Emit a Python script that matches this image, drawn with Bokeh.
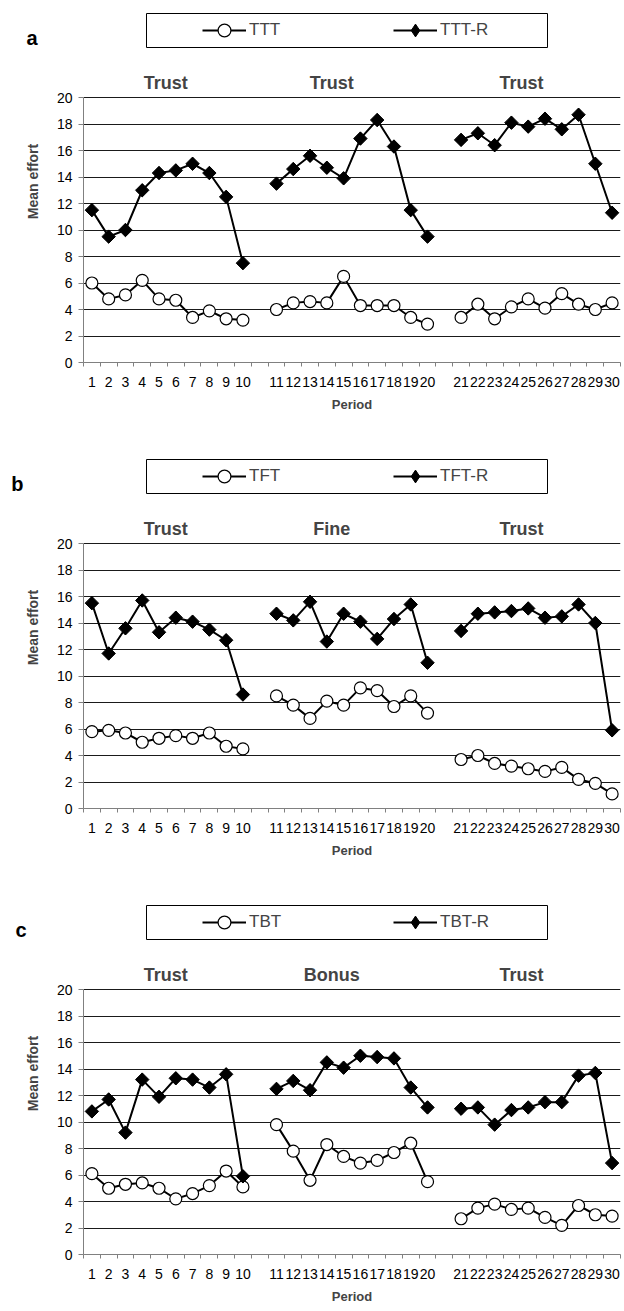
from math import pi
from bokeh.plotting import figure
from bokeh.layouts import column
from bokeh.models import (Range1d, FixedTicker, Label, Legend, LegendItem, BoxAnnotation,
                          LinearAxis)
from bokeh.embed import file_html
from bokeh.resources import INLINE

periods = list(range(1, 31))
y_ticks = list(range(0, 21, 2))

a_titles = ["Trust", "Trust", "Trust"]
b_titles = ["Trust", "Fine", "Trust"]
c_titles = ["Trust", "Bonus", "Trust"]

ttt = [6.0, 4.8, 5.1, 6.2, 4.8, 4.7, 3.4, 3.9, 3.3, 3.2,
       4.0, 4.5, 4.6, 4.5, 6.5, 4.3, 4.3, 4.3, 3.4, 2.9,
       3.4, 4.4, 3.3, 4.2, 4.8, 4.1, 5.2, 4.4, 4.0, 4.5]
ttt_r = [11.5, 9.5, 10.0, 13.0, 14.3, 14.5, 15.0, 14.3, 12.5, 7.5,
         13.5, 14.6, 15.6, 14.7, 13.9, 16.9, 18.3, 16.3, 11.5, 9.5,
         16.8, 17.3, 16.4, 18.1, 17.8, 18.4, 17.6, 18.7, 15.0, 11.3]
tft = [5.8, 5.9, 5.7, 5.0, 5.3, 5.5, 5.3, 5.7, 4.7, 4.5,
       8.5, 7.8, 6.8, 8.1, 7.8, 9.1, 8.9, 7.7, 8.5, 7.2,
       3.7, 4.0, 3.4, 3.2, 3.0, 2.8, 3.1, 2.2, 1.9, 1.1]
tft_r = [15.5, 11.7, 13.6, 15.7, 13.3, 14.4, 14.1, 13.5, 12.7, 8.6,
         14.7, 14.2, 15.6, 12.6, 14.7, 14.1, 12.8, 14.3, 15.4, 11.0,
         13.4, 14.7, 14.8, 14.9, 15.1, 14.4, 14.5, 15.4, 14.0, 5.9]
tbt = [6.1, 5.0, 5.3, 5.4, 5.0, 4.2, 4.6, 5.2, 6.3, 5.1,
       9.8, 7.8, 5.6, 8.3, 7.4, 6.9, 7.1, 7.7, 8.4, 5.5,
       2.7, 3.5, 3.8, 3.4, 3.5, 2.8, 2.2, 3.7, 3.0, 2.9]
tbt_r = [10.8, 11.7, 9.2, 13.2, 11.9, 13.3, 13.2, 12.6, 13.6, 5.9,
         12.5, 13.1, 12.4, 14.5, 14.1, 15.0, 14.9, 14.8, 12.6, 11.1,
         11.0, 11.1, 9.8, 10.9, 11.1, 11.5, 11.5, 13.5, 13.7, 6.9]

FONT = "Liberation Sans"
FRAME_H = 362                  # frame runs from the top of each panel down to the x axis
PX_PER_UNIT = 265 / 20.0
Y_TOP = FRAME_H / PX_PER_UNIT  # value 20 sits 97 px below the panel top
LETTER_Y = 24.5
TITLE_SLOTS = [5.4, 15.3, 26.6]


def slot(p):
    # one empty category between consecutive blocks of ten periods
    return p + (p - 1) // 10


def make_panel(letter, names, low, high, titles, height, bottom, letter_standoff):
    p = figure(width=624, height=height, x_range=Range1d(0.5, 32.5), y_range=Range1d(0, Y_TOP),
               output_backend="svg", toolbar_location=None, title=None,
               min_border_left=83, min_border_right=4,
               min_border_top=0, min_border_bottom=bottom)
    p.outline_line_color = None
    p.background_fill_color = "white"
    p.border_fill_color = "white"
    p.xgrid.visible = False
    p.ygrid.ticker = FixedTicker(ticks=y_ticks[1:])
    p.ygrid.grid_line_color = "#1a1a1a"
    p.ygrid.grid_line_width = 1

    xa = p.xaxis[0]
    xa.ticker = FixedTicker(ticks=[slot(q) for q in periods],
                            minor_ticks=[i + 0.5 for i in range(0, 33)])
    xa.major_label_overrides = {slot(q): str(q) for q in periods}
    xa.major_tick_line_color = None
    xa.major_tick_in = 0
    xa.major_tick_out = 0
    xa.minor_tick_in = 0
    xa.minor_tick_out = 4
    xa.minor_tick_line_color = "#808080"
    xa.axis_line_color = "#808080"
    xa.major_label_standoff = 10
    xa.major_label_text_font = FONT
    xa.major_label_text_font_size = "14px"
    xa.major_label_text_color = "black"
    xa.axis_label = "Period"
    xa.axis_label_text_font = FONT
    xa.axis_label_text_font_style = "bold"
    xa.axis_label_text_font_size = "13px"
    xa.axis_label_standoff = 7

    ya = p.yaxis[0]
    ya.ticker = FixedTicker(ticks=y_ticks, minor_ticks=[])
    ya.bounds = (0, 20)
    ya.major_tick_in = 0
    ya.major_tick_out = 5
    ya.major_tick_line_color = "#808080"
    ya.axis_line_color = "#808080"
    ya.major_label_standoff = 6
    ya.major_label_text_font = FONT
    ya.major_label_text_font_size = "14px"
    ya.major_label_text_color = "black"
    ya.axis_label = "Mean effort"
    ya.axis_label_text_font = FONT
    ya.axis_label_text_font_style = "bold"
    ya.axis_label_text_font_size = "14px"
    ya.axis_label_standoff = 13

    # panel letter, shown as the only label of an outer, otherwise invisible axis
    la = LinearAxis(ticker=FixedTicker(ticks=[LETTER_Y], minor_ticks=[]),
                    major_label_overrides={LETTER_Y: letter},
                    axis_line_color=None, major_tick_line_color=None,
                    minor_tick_line_color=None, major_tick_in=0, major_tick_out=0,
                    major_label_standoff=letter_standoff,
                    major_label_text_font=FONT, major_label_text_font_style="bold",
                    major_label_text_font_size="20px", major_label_text_color="black")
    p.add_layout(la, "left")

    low_rs, high_rs = None, None
    for b in range(3):
        ps = periods[b * 10:(b + 1) * 10]
        xs = [slot(q) for q in ps]
        lo = low[b * 10:(b + 1) * 10]
        hi = high[b * 10:(b + 1) * 10]
        l1 = p.line(xs, lo, line_color="black", line_width=2)
        m1 = p.scatter(xs, lo, marker="circle", size=12, fill_color="white",
                       line_color="black", line_width=1.2)
        l2 = p.line(xs, hi, line_color="black", line_width=2)
        # diamond core (also used as the legend symbol) under a square turned by 45 degrees
        d2 = p.scatter(xs, hi, marker="diamond", size=12.5,
                       fill_color="black", line_color="black")
        p.scatter(xs, hi, marker="square", angle=pi / 4, size=9.5,
                  fill_color="black", line_color="black")
        if b == 0:
            low_rs, high_rs = [l1, m1], [l2, d2]

    # legend box (frame-relative screen units, y measured up from the x axis)
    p.add_layout(BoxAnnotation(left=63, right=464, top=FRAME_H - 13, bottom=FRAME_H - 47,
                               left_units="screen", right_units="screen",
                               top_units="screen", bottom_units="screen",
                               fill_alpha=0, line_color="black", line_width=1, line_alpha=1))
    leg = Legend(items=[LegendItem(label=names[0], renderers=low_rs),
                        LegendItem(label=names[1], renderers=high_rs)],
                 orientation="horizontal", location=(119, FRAME_H - 30 - 16),
                 border_line_color=None, background_fill_alpha=0,
                 padding=0, margin=0, spacing=0,
                 glyph_width=44, glyph_height=32, label_standoff=3, label_width=144,
                 label_text_font=FONT, label_text_font_size="17px")
    p.add_layout(leg)

    for sx, t in zip(TITLE_SLOTS, titles):
        p.add_layout(Label(x=sx, y=20, text=t, y_offset=5,
                           text_align="center", text_baseline="bottom",
                           text_font=FONT, text_font_style="bold", text_font_size="18px"))
    return p


pa = make_panel("a", ["TTT", "TTT-R"], ttt, ttt_r, a_titles, 446, 84, -16)
pb = make_panel("b", ["TFT", "TFT-R"], tft, tft_r, b_titles, 446, 84, -2)
pc = make_panel("c", ["TBT", "TBT-R"], tbt, tbt_r, c_titles, 419, 57, -5)

layout = column(pa, pb, pc, spacing=0)
open("out.html", "w").write(file_html(layout, INLINE))
